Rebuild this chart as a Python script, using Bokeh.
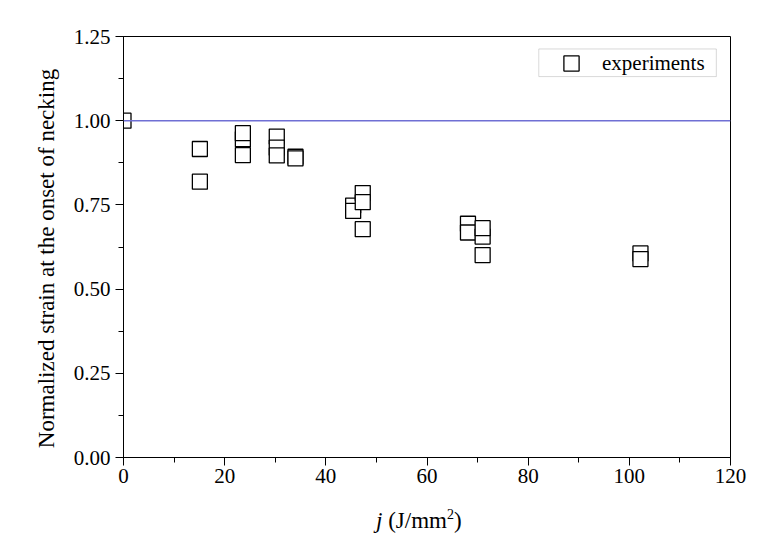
from bokeh.plotting import figure
from bokeh.models import (Range1d, SingleIntervalTicker, NumeralTickFormatter, Span,
                          Legend, LegendItem, BoxAnnotation, ColumnDataSource, Div)
from bokeh.layouts import column
from bokeh.embed import file_html
from bokeh.resources import INLINE

# ---- data ----
j_energy = [0.0, 15.1, 15.1, 23.6, 23.6, 23.6, 30.3, 30.3, 30.3, 34.0, 34.0,
            45.4, 45.4, 47.3, 47.3, 47.3, 68.1, 68.1, 71.0, 71.0, 71.0, 102.2, 102.2]
norm_strain = [1.000, 0.916, 0.819, 0.945, 0.963, 0.898, 0.953, 0.920, 0.897, 0.893, 0.888,
               0.748, 0.732, 0.785, 0.758, 0.678, 0.694, 0.668, 0.656, 0.681, 0.601, 0.606, 0.589]
reference_level = [1.0]
series_name = "experiments"
x_title_var = "j"
x_title_unit = "(J/mm"
x_title_sup = "2"
y_title = "Normalized strain at the onset of necking"

FONT = "Liberation Serif"

p = figure(width=780, height=500, output_backend="svg", toolbar_location=None,
           x_range=Range1d(0, 120), y_range=Range1d(0, 1.25),
           min_border_left=123, min_border_right=50, min_border_top=36, min_border_bottom=43)
p.background_fill_color = "white"
p.border_fill_color = "white"
p.outline_line_color = "black"
p.outline_line_width = 1
p.xgrid.visible = False
p.ygrid.visible = False

# axes
p.xaxis.ticker = SingleIntervalTicker(interval=20, num_minor_ticks=2)
p.yaxis.ticker = SingleIntervalTicker(interval=0.25, num_minor_ticks=2)
p.yaxis.formatter = NumeralTickFormatter(format="0.00")
for ax in (p.xaxis[0], p.yaxis[0]):
    ax.axis_line_color = "black"
    ax.axis_line_width = 1
    ax.major_tick_in = 0
    ax.major_tick_out = 8
    ax.minor_tick_in = 0
    ax.minor_tick_out = 5
    ax.major_tick_line_color = "black"
    ax.minor_tick_line_color = "black"
    ax.major_label_text_font = FONT
    ax.major_label_text_font_size = "21px"
    ax.major_label_text_color = "black"
p.xaxis.major_label_standoff = 3
p.yaxis.major_label_standoff = 5
p.yaxis.axis_label = y_title + "\u00a0\u00a0\u00a0\u00a0"
p.yaxis.axis_label_text_font = FONT
p.yaxis.axis_label_text_font_style = "normal"
p.yaxis.axis_label_text_font_size = "23px"
p.yaxis.axis_label_text_color = "black"
p.yaxis.axis_label_standoff = 12

# reference line
p.add_layout(Span(location=reference_level[0], dimension="width",
                  line_color="#6f6fd4", line_width=1.5))

src = ColumnDataSource(dict(x=j_energy, y=norm_strain))
r = p.scatter("x", "y", source=src, marker="square", size=15,
              line_color="black", line_width=1.3, fill_color="white")

# legend border box
p.add_layout(BoxAnnotation(left=82.1, right=117.2, bottom=1.131, top=1.213,
                           fill_alpha=0, line_color="#808080", line_width=1))
legend = Legend(items=[LegendItem(label=series_name, renderers=[r])],
                location=(429, 375), padding=0, spacing=0,
                glyph_width=38, glyph_height=38, label_height=38, label_standoff=12,
                border_line_alpha=0, background_fill_alpha=0,
                label_text_font=FONT, label_text_font_size="21px", label_text_color="black")
p.add_layout(legend, "center")

# x-axis title: italic j and superscript 2, as HTML text below the plot
xtitle_html = (
    '<div style="position:absolute; left:376px; top:8px; white-space:nowrap; '
    "font-family:'Liberation Serif'; font-size:23px; line-height:26px; color:black;\">"
    f'<i>{x_title_var}</i> {x_title_unit}'
    f'<span style="font-size:14px; position:relative; top:-9px;">{x_title_sup}</span>)</div>'
)
xtitle = Div(text=xtitle_html, width=780, height=50, margin=0)

layout = column(p, xtitle, spacing=0)
open("out.html", "w").write(file_html(layout, INLINE))
